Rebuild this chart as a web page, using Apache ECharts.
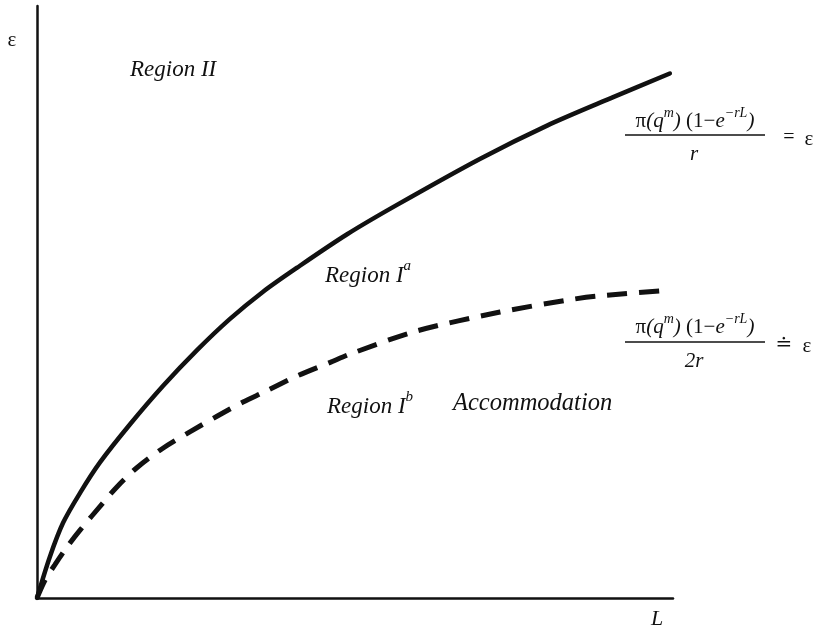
<!DOCTYPE html>
<html><head><meta charset="utf-8">
<script src="https://cdn.jsdelivr.net/npm/echarts@6/dist/echarts.min.js"></script>
<style>html,body{margin:0;padding:0;background:#fff}#c{width:818px;height:632px}</style>
</head><body><div id="c"></div>
<script>
// L values and epsilon values (arbitrary units, axes 0..100)
const solidL   = [0, 2.0, 4.1, 6.8, 9.9, 14.6, 19.8, 25.2, 30.3, 35.5, 40.9, 48.7, 56.6, 69.7, 80.2, 90.6, 99.5];
const solidEps = [0, 6.9, 12.7, 17.8, 22.9, 29.3, 35.8, 41.9, 47.1, 51.7, 55.8, 61.4, 66.4, 74.2, 79.8, 84.6, 88.6];
const dashL    = [0, 1.3, 2.8, 4.7, 6.8, 10.4, 12.6, 15.7, 19.8, 24.1, 28.3, 32.4, 35.5, 40.9, 46.1, 49.2, 59.7, 72.8, 83.3, 88.1, 99.5];
const dashEps  = [0, 3.1, 5.6, 8.6, 11.5, 16.1, 18.8, 22.0, 25.3, 28.1, 30.7, 33.1, 34.7, 37.5, 39.8, 41.2, 45.1, 48.3, 50.3, 51.0, 52.0];

const zip = (a, b) => a.map((v, i) => [v, b[i]]);
const serif = '"Liberation Serif", "DejaVu Serif", serif';
const it = (size) => ({ fontFamily: serif, fontStyle: 'italic', fontSize: size, fill: '#111' });
const up = (size) => ({ fontFamily: serif, fontSize: size, fill: '#111' });

const numerator = (y) => ({ type: 'text', x: 695, y: y, style: {
  text: '{u|π}{i|(q}{s|m}{i|)}{u| (1−}{i|e}{s|−rL}{i|)}', textAlign: 'center', textVerticalAlign: 'middle',
  rich: { u: Object.assign({ lineHeight: 26, verticalAlign: 'bottom' }, up(21)),
          i: Object.assign({ lineHeight: 26, verticalAlign: 'bottom' }, it(21)),
          s: Object.assign({ lineHeight: 26, verticalAlign: 'top' }, it(14)) } } });

const regionSup = (x, y, sup) => ({ type: 'text', x: x, y: y, style: {
  text: '{n|Region I}{s|' + sup + '}', textAlign: 'left', textVerticalAlign: 'middle',
  rich: { n: Object.assign({ lineHeight: 28, verticalAlign: 'bottom' }, it(23)),
          s: Object.assign({ lineHeight: 28, verticalAlign: 'top' }, it(15)) } } });

const chart = echarts.init(document.getElementById('c'));
chart.setOption({
  backgroundColor: '#fff',
  animation: false,
  grid: { left: 37, right: 145, top: 6, bottom: 34, containLabel: false },
  xAxis: { type: 'value', min: 0, max: 100,
    axisLine: { show: true, lineStyle: { color: '#111', width: 2.5 } },
    axisTick: { show: false }, axisLabel: { show: false }, splitLine: { show: false } },
  yAxis: { type: 'value', min: 0, max: 100,
    axisLine: { show: true, lineStyle: { color: '#111', width: 2.5 } },
    axisTick: { show: false }, axisLabel: { show: false }, splitLine: { show: false } },
  series: [
    { type: 'line', data: zip(solidL, solidEps), smooth: 0.3, symbol: 'none',
      lineStyle: { color: '#111', width: 4.5, cap: 'round' } },
    { type: 'line', data: zip(dashL, dashEps), smooth: 0.3, symbol: 'none',
      lineStyle: { color: '#111', width: 5, type: [20, 12], cap: 'butt' } }
  ],
  graphic: [
    { type: 'text', x: 12, y: 40, style: Object.assign({ text: 'ε', textAlign: 'center', textVerticalAlign: 'middle' }, up(21)) },
    { type: 'text', x: 657, y: 619, style: Object.assign({ text: 'L', textAlign: 'center', textVerticalAlign: 'middle' }, it(22)) },
    { type: 'text', x: 130, y: 70, style: Object.assign({ text: 'Region II', textAlign: 'left', textVerticalAlign: 'middle' }, it(23)) },
    regionSup(325, 273, 'a'),
    regionSup(327, 404, 'b'),
    { type: 'text', x: 453, y: 404, style: Object.assign({ text: 'Accommodation', textAlign: 'left', textVerticalAlign: 'middle' }, it(24.5)) },
    // formula 1
    numerator(119),
    { type: 'line', shape: { x1: 625, y1: 135, x2: 765, y2: 135 }, style: { stroke: '#111', lineWidth: 1.5 } },
    { type: 'text', x: 694, y: 154, style: Object.assign({ text: 'r', textAlign: 'center', textVerticalAlign: 'middle' }, it(21)) },
    { type: 'text', x: 789, y: 138, style: Object.assign({ text: '=', textAlign: 'center', textVerticalAlign: 'middle' }, up(20)) },
    { type: 'text', x: 809, y: 139, style: Object.assign({ text: 'ε', textAlign: 'center', textVerticalAlign: 'middle' }, up(21)) },
    // formula 2
    numerator(325),
    { type: 'line', shape: { x1: 625, y1: 342, x2: 765, y2: 342 }, style: { stroke: '#111', lineWidth: 1.5 } },
    { type: 'text', x: 694, y: 361, style: Object.assign({ text: '2r', textAlign: 'center', textVerticalAlign: 'middle' }, it(21)) },
    { type: 'text', x: 784, y: 345, style: Object.assign({ text: '≐', textAlign: 'center', textVerticalAlign: 'middle' }, up(20)) },
    { type: 'text', x: 807, y: 346, style: Object.assign({ text: 'ε', textAlign: 'center', textVerticalAlign: 'middle' }, up(21)) }
  ]
});
</script></body></html>
